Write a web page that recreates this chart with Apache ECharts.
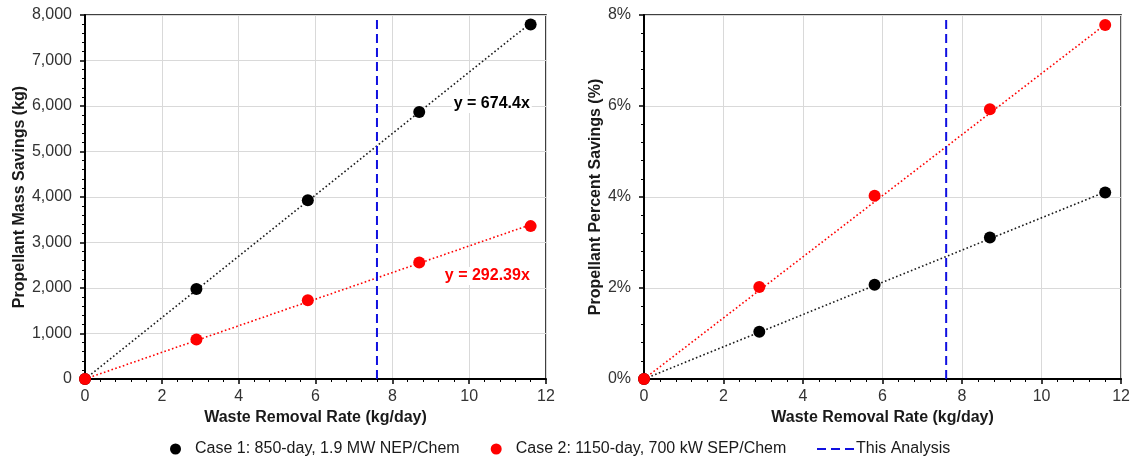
<!DOCTYPE html>
<html><head><meta charset="utf-8">
<script src="https://cdn.jsdelivr.net/npm/echarts@6/dist/echarts.min.js"></script>
<style>html,body{margin:0;padding:0;background:#fff}#c{width:1133px;height:459px}</style>
</head><body><div id="c"></div>
<script>
// ---- data ----
const xRates = [0, 2.9, 5.8, 8.7, 11.6];
const case1Mass = [0, 1980, 3930, 5870, 7790];
const case2Mass = [0, 870, 1730, 2560, 3360];
const case1Pct = [0, 1.04, 2.07, 3.11, 4.10];
const case2Pct = [0, 2.02, 4.03, 5.93, 7.78];
const trendX = [0, 11.6];
const trend1Mass = [0, 7823];
const trend2Mass = [0, 3392];
const trend1Pct = [0, 4.11];
const trend2Pct = [0, 7.79];
const analysisRate = 7.6;
const eqLabels = ['y = 674.4x', 'y = 292.39x'];
const seriesNames = ['Case 1: 850-day, 1.9 MW NEP/Chem', 'Case 2: 1150-day, 700 kW SEP/Chem', 'This Analysis'];
const xTitle = 'Waste Removal Rate (kg/day)';
const yTitles = ['Propellant Mass Savings (kg)', 'Propellant Percent Savings (%)'];
const xRange = [0, 12, 2];
const yMassRange = [0, 8000, 1000];
const yPctRange = [0, 8, 2];

// ---- helpers ----
const FF = '"Liberation Sans", Arial, sans-serif';
const zip = (xs, ys) => xs.map((x, i) => [x, ys[i]]);
const BLACK = '#000000', RED = '#ff0000', BLUE = '#1010e0';

function xAxis(gi) {
  return {
    type: 'value', gridIndex: gi, min: xRange[0], max: xRange[1], interval: xRange[2],
    name: xTitle, nameLocation: 'middle', nameGap: 25,
    nameTextStyle: {fontSize: 16, fontWeight: 'bold', color: '#1a1a1a', fontFamily: FF},
    axisLine: {show: true, onZero: false, lineStyle: {color: '#000', width: 2}},
    axisTick: {show: true, length: 5, lineStyle: {color: '#000', width: 1.5}},
    minorTick: {show: true, splitNumber: 5, length: 3, lineStyle: {color: '#000', width: 1}},
    axisLabel: {fontSize: 16, color: '#333', margin: 10, fontFamily: FF},
    splitLine: {show: true, lineStyle: {color: '#d9d9d9', width: 1}}
  };
}
function yAxis(gi, range, name, gap, fmt) {
  return {
    type: 'value', gridIndex: gi, min: range[0], max: range[1], interval: range[2],
    name: name, nameLocation: 'middle', nameGap: gap,
    nameTextStyle: {fontSize: 16, fontWeight: 'bold', color: '#1a1a1a', fontFamily: FF},
    axisLine: {show: true, onZero: false, lineStyle: {color: '#000', width: 2}},
    axisTick: {show: true, length: 5, lineStyle: {color: '#000', width: 1.5}},
    minorTick: {show: true, splitNumber: 5, length: 3, lineStyle: {color: '#000', width: 1}},
    axisLabel: {fontSize: 16, color: '#333', margin: 13, fontFamily: FF, formatter: fmt},
    splitLine: {show: true, lineStyle: {color: '#d9d9d9', width: 1}}
  };
}
function trend(gi, name, ys, color, eq, eqCoord) {
  const s = {
    type: 'line', name: name, xAxisIndex: gi, yAxisIndex: gi, data: zip(trendX, ys),
    symbol: 'none', silent: true, z: 2,
    lineStyle: {color: color, width: 1.6, type: [1.6, 2.4]}
  };
  if (eq) {
    s.markPoint = {
      symbol: 'circle', symbolSize: 0, silent: true, animation: false,
      data: [{coord: eqCoord, value: eq}],
      label: {show: true, position: 'left', distance: 0, formatter: eq,
        fontSize: 16, fontWeight: 'bold', color: color === RED ? RED : '#000', fontFamily: FF,
        backgroundColor: '#fff', padding: [1, 2]}
    };
  }
  return s;
}
function vline(gi, top) {
  return {
    type: 'line', name: seriesNames[2], xAxisIndex: gi, yAxisIndex: gi,
    data: [[analysisRate, 0], [analysisRate, top]], symbol: 'none', z: 3,
    lineStyle: {color: BLUE, width: 2, type: [9, 5]}, itemStyle: {color: BLUE}
  };
}
function pts(gi, name, ys, color) {
  return {
    type: 'scatter', name: name, xAxisIndex: gi, yAxisIndex: gi, data: zip(xRates, ys),
    symbol: 'circle', symbolSize: 12, z: 5, itemStyle: {color: color, opacity: 1}
  };
}

const chart = echarts.init(document.getElementById('c'), null, {renderer: 'canvas'});
chart.setOption({
  animation: false,
  backgroundColor: '#fff',
  textStyle: {fontFamily: FF},
  grid: [
    {left: 85, right: 587, top: 15, bottom: 80, show: true, borderColor: '#000', borderWidth: 1.5},
    {left: 644, right: 11, top: 15, bottom: 80, show: true, borderColor: '#000', borderWidth: 1.5}
  ],
  xAxis: [xAxis(0), xAxis(1)],
  yAxis: [
    yAxis(0, yMassRange, yTitles[0], 57, v => v.toLocaleString('en-US')),
    yAxis(1, yPctRange, yTitles[1], 40, v => v + '%')
  ],
  legend: [
    {data: [seriesNames[0], seriesNames[1]], left: 165, top: 436, itemWidth: 11, itemHeight: 11,
      itemGap: 31, icon: 'circle', selectedMode: false,
      textStyle: {fontSize: 16, color: '#1a1a1a', fontFamily: FF, padding: [0, 0, 0, 9]}},
    {data: [{name: seriesNames[2], icon: 'path://M0,0h9v2h-9z M14,0h9v2h-9z M28,0h9v2h-9z'}],
      left: 812, top: 436, itemWidth: 37, itemHeight: 11, selectedMode: false,
      itemStyle: {color: BLUE, borderWidth: 0},
      textStyle: {fontSize: 16, color: '#1a1a1a', fontFamily: FF, padding: [0, 0, 0, -3]}}
  ],
  series: [
    trend(0, 'trend1', trend1Mass, '#1a1a1a', eqLabels[0], [11.63, 6044]),
    trend(0, 'trend2', trend2Mass, RED, eqLabels[1], [11.63, 2264]),
    vline(0, yMassRange[1]),
    pts(0, seriesNames[0], case1Mass, BLACK),
    pts(0, seriesNames[1], case2Mass, RED),
    trend(1, 'trend3', trend1Pct, '#1a1a1a'),
    trend(1, 'trend4', trend2Pct, RED),
    vline(1, yPctRange[1]),
    pts(1, seriesNames[0], case1Pct, BLACK),
    pts(1, seriesNames[1], case2Pct, RED)
  ]
});
</script></body></html>
